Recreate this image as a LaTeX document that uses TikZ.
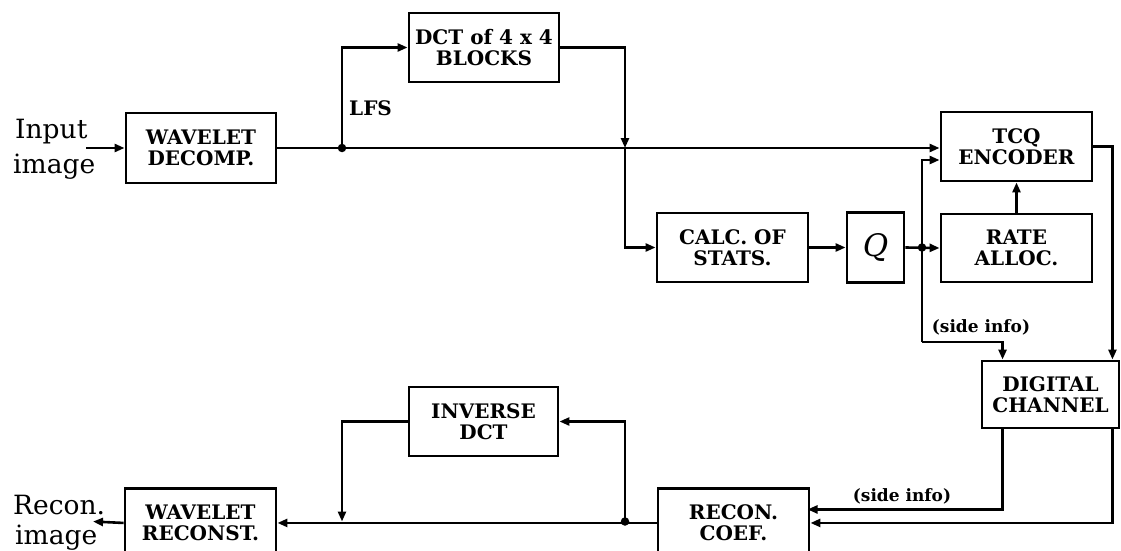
\documentclass[tikz,border=0pt]{standalone}
\usepackage{fontspec}
\setmainfont{DejaVu Serif}
\usetikzlibrary{arrows.meta,calc}
\tikzset{
  blk/.style={draw, line width=2.9pt, inner sep=0pt, align=center,
    font=\bfseries\fontsize{20}{21.5}\selectfont},
  wire/.style={line width=2.6pt},
  conn/.style={line width=2.6pt, -{Triangle[length=10pt,width=8pt]}},
  dotj/.style={circle, fill, inner sep=0pt, minimum size=8.5pt},
  lab/.style={inner sep=0pt, font=\fontsize{26.5}{30}\selectfont},
  small/.style={inner sep=0pt, font=\bfseries\fontsize{17}{19}\selectfont},
}
\begin{document}
\begin{tikzpicture}[x=1pt,y=-1pt]
\useasboundingbox (0,0) rectangle (1121,551);
\clip (0,0) rectangle (1121,551);

% blocks
\node[blk, minimum width=150pt, minimum height=70pt] (wd) at (201,148) {WAVELET\\DECOMP.};
\node[blk, minimum width=150pt, minimum height=69pt] (dct) at (484,47.5) {DCT of 4 x 4\\BLOCKS};
\node[blk, minimum width=151pt, minimum height=69pt] (calc) at (732.5,247.5) {CALC. OF\\STATS.};
\node[blk, minimum width=57pt, minimum height=70pt, font=\itshape\fontsize{31}{31}\selectfont] (q) at (875.5,247.5) {Q};
\node[blk, minimum width=151pt, minimum height=69pt] (tcq) at (1016.5,146.5) {TCQ\\ENCODER};
\node[blk, minimum width=151pt, minimum height=68pt] (rate) at (1016.5,248) {RATE\\ALLOC.};
\node[blk, minimum width=137pt, minimum height=67pt] (dig) at (1050.5,394.5) {DIGITAL\\CHANNEL};
\node[blk, minimum width=149pt, minimum height=69pt] (idct) at (483.5,421.5) {INVERSE\\DCT};
\node[blk, minimum width=151pt, minimum height=69pt, anchor=north] (recon) at (733.5,487) {RECON.\\COEF.};
\node[blk, minimum width=151pt, minimum height=69pt, anchor=north] (wr) at (200.5,487) {WAVELET\\RECONST.};

% outer labels
\node[lab, anchor=base west] (inA) at (15,138) {Input};
\node[lab, anchor=base west] (inB) at (13,173) {image};
\node[lab, anchor=base west] (outA) at (13,514) {Recon.};
\node[lab, anchor=base west] (outB) at (15,544) {image};
\node[small, font=\bfseries\fontsize{20}{22}\selectfont, anchor=base west] (lfs) at (349,115) {LFS};
\node[small] (si1) at (981,327) {(side info)};
\node[small] (si2) at (902,496) {(side info)};

% coordinates
\coordinate (in) at (86,148);
\coordinate (j1) at (342,148);
\coordinate (j2) at (625,148);
\coordinate (j3) at (922,247.5);
\coordinate (t2) at ($(tcq.west)+(0,13.5)$);
\coordinate (k1) at (922,342);
\coordinate (s1) at ($(dig.north west)+(22,0)$);
\coordinate (s2) at ($(dig.north east)+(-8,0)$);
\coordinate (d1) at ($(dig.south west)+(22,0)$);
\coordinate (d2) at ($(dig.south east)+(-8,0)$);
\coordinate (r1) at ($(recon.west)+(151,-13.5)$);
\coordinate (j4) at (625,521.5);
\coordinate (j5) at (342,521.5);
\coordinate (out) at (93,521.5);

% top chain
\draw[conn] (in) -- (wd.west);
\draw[wire] (wd.east) -- (j1);
\draw[conn] (j1) -- (j1 -| tcq.west);
\draw[conn] (j1) |- (dct.west);
\draw[conn] (dct.east) -| (j2);
\draw[conn] (j2) |- (calc.west);
\draw[conn] (calc.east) -- (q.west);
\draw[conn] (q.east) -- (rate.west);
\draw[conn] (j3) |- (t2);
\draw[conn] (rate.north) -- (tcq.south);
\draw[wire] (j3) -- (k1);
\draw[conn] (k1) -| (s1);
\draw[conn] (tcq.east) -| (s2);

% bottom chain
\draw[conn] (d1) |- (r1);
\draw[conn] (d2) |- (recon.east);
\draw[conn] (recon.west) -- (wr.east);
\draw[conn] (j4) |- (idct.east);
\draw[conn] (idct.west) -| (j5);
\draw[conn] (wr.west) -- (out);

% junction dots
\node[dotj] (dj1) at (j1) {};
\node[dotj] (dj3) at (j3) {};
\node[dotj] (dj4) at (j4) {};
\end{tikzpicture}
\end{document}
